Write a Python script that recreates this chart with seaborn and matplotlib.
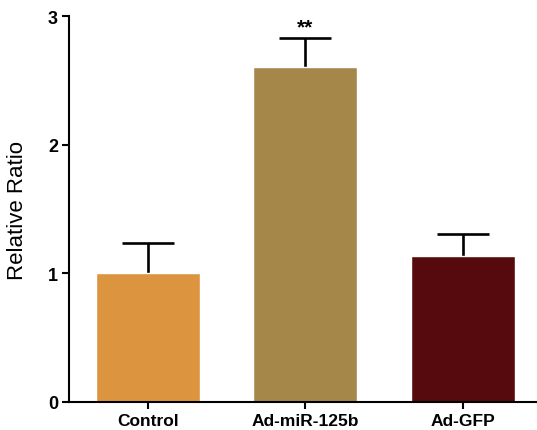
import matplotlib
matplotlib.use("Agg")
import matplotlib.pyplot as plt
import seaborn as sns
import pandas as pd

categories = ["Control", "Ad-miR-125b", "Ad-GFP"]
means = [1.0, 2.60, 1.137]
errors = [0.235, 0.233, 0.168]
colors = ["#DD943F", "#A5874A", "#560A0E"]
annotations = ["", "**", ""]

sns.set_style("ticks")
plt.rcParams["font.family"] = ["Liberation Sans", "DejaVu Sans"]
plt.rcParams["text.color"] = "black"
plt.rcParams["axes.labelcolor"] = "black"
plt.rcParams["xtick.color"] = "black"
plt.rcParams["ytick.color"] = "black"
plt.rcParams["axes.edgecolor"] = "black"

df = pd.DataFrame({"group": categories, "value": means})

fig = plt.figure(figsize=(5.37, 4.31), dpi=100)
ax = fig.add_axes([0.1285, 0.065, 0.8715, 0.8955])

sns.barplot(data=df, x="group", y="value", hue="group", palette=colors,
            width=0.66, saturation=1, legend=False, ax=ax, zorder=2)

xs = list(range(len(categories)))
eb = ax.errorbar(xs, means, yerr=[[0] * len(errors), errors], fmt="none",
                 ecolor="black", elinewidth=1.9, capsize=18.7, capthick=1.9, zorder=1)
caplines = eb[1]
if len(caplines) == 2:
    caplines[0].set_visible(False)

for x, m, e, a in zip(xs, means, errors, annotations):
    if a:
        ax.text(x, m + e + 0.005, a, ha="center", va="bottom", fontsize=15,
                fontweight="bold", color="black")

ax.set_ylim(0, 3)
ax.set_xlim(-0.5, 2.47)
ax.set_yticks([0, 1, 2, 3])
ax.set_yticklabels(["0", "1", "2", "3"], fontsize=13, fontweight="bold")
ax.set_xticks(xs)
ax.set_xticklabels(categories, fontsize=12.5, fontweight="bold")
ax.set_xlabel("")
ax.set_ylabel("Relative Ratio", fontsize=16, labelpad=14)
for s in ["top", "right"]:
    ax.spines[s].set_visible(False)
for s in ["left", "bottom"]:
    ax.spines[s].set_linewidth(1.5)
ax.tick_params(axis="both", width=1.5, length=5, pad=3)

fig.savefig("out.png", dpi=100)
